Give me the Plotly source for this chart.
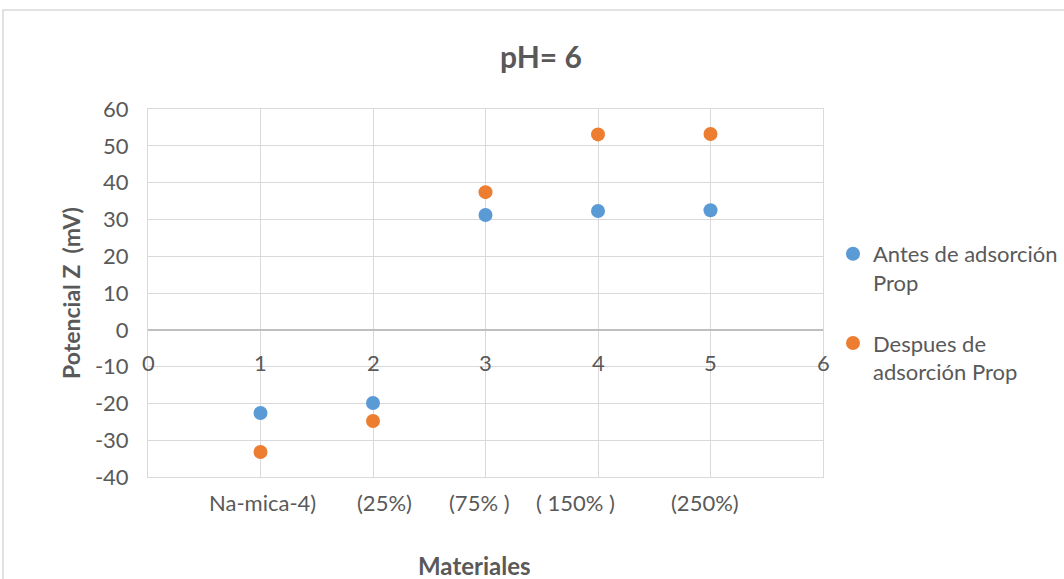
import plotly.graph_objects as go

# ---- data ----
x_vals = [1, 2, 3, 4, 5]
antes = [-22.6, -19.9, 31.2, 32.3, 32.5]
despues = [-33.2, -24.8, 37.4, 53.1, 53.2]
series_names = ["Antes de adsorción<br>Prop", "Despues de<br>adsorción Prop"]
x_ticks = [0, 1, 2, 3, 4, 5, 6]
y_ticks = [-40, -30, -20, -10, 0, 10, 20, 30, 40, 50, 60]
category_labels = ["Na-mica-4)", "(25%)", "(75% )", "( 150% )", "(250%)"]
title_text = "pH= 6"
x_title = "Materiales"
y_title = "Potencial Z  (mV)"

FONT = "Lato, Noto Sans, sans-serif"
TXT = "#595959"
GRID = "#d9d9d9"
BLUE = "#5B9BD5"
ORANGE = "#ED7D31"
FS = 22

fig = go.Figure()
fig.add_trace(go.Scatter(x=x_vals, y=antes, mode="markers", name=series_names[0],
                         marker=dict(color=BLUE, size=14), legendgroup="a"))
fig.add_trace(go.Scatter(x=x_vals, y=despues, mode="markers", name=series_names[1],
                         marker=dict(color=ORANGE, size=14), legendgroup="b"))

annotations = []
# x tick labels placed just under the zero line (Excel style axis crossing at 0)
for t in x_ticks:
    annotations.append(dict(x=t, y=0, xref="x", yref="y", text=str(t), showarrow=False,
                            yshift=-33, font=dict(family=FONT, size=FS, color=TXT)))
# category labels below the plot
cat_shift = [2, 11, -6, -23, -6]
for xv, lab, sh in zip(x_vals, category_labels, cat_shift):
    annotations.append(dict(x=xv, y=0, xref="x", yref="paper", text=lab.replace("  ", "&nbsp; "),
                            showarrow=False, xshift=sh, yshift=-25, yanchor="middle",
                            font=dict(family=FONT, size=FS, color=TXT)))
annotations.append(dict(x=(474 - 148) / 675, y=0, xref="paper", yref="paper", text="<b>%s</b>" % x_title,
                        showarrow=False, yshift=-88, yanchor="middle",
                        font=dict(family=FONT, size=24, color=TXT)))

fig.update_layout(
    width=1064, height=579,
    margin=dict(l=148, r=241, t=109, b=102, autoexpand=False),
    paper_bgcolor="white", plot_bgcolor="white",
    font=dict(family=FONT, color=TXT, size=FS),
    title=dict(text="<b>%s</b>" % title_text, x=541 / 1064, xref="container", xanchor="center",
               y=1 - 57 / 579, yref="container", yanchor="middle",
               font=dict(family=FONT, size=30, color=TXT)),
    xaxis=dict(range=[0, 6], tickvals=x_ticks, showticklabels=False, showgrid=True,
               gridcolor=GRID, gridwidth=1, zeroline=False, showline=True, linecolor=GRID,
               mirror=True),
    yaxis=dict(range=[-40, 60], tickvals=y_ticks, ticktext=[str(v) for v in y_ticks],
               showgrid=True, gridcolor=GRID, gridwidth=1,
               zeroline=True, zerolinecolor="#bfbfbf", zerolinewidth=1.5, showline=True,
               linecolor=GRID, mirror=True, ticklabelstandoff=14,
               tickfont=dict(family=FONT, size=FS, color=TXT),
               title=dict(text="<b>%s</b>" % y_title.replace("  ", "&nbsp; "), standoff=7,
                          font=dict(family=FONT, size=23, color=TXT))),
    legend=dict(x=(833 - 148) / 675, y=(477 - 233) / 368, xanchor="left", yanchor="top",
                font=dict(family=FONT, size=FS, color=TXT), tracegroupgap=29, valign="top",
                bgcolor="rgba(0,0,0,0)"),
    annotations=annotations,
    shapes=[dict(type="rect", xref="paper", yref="paper", x0=(3 - 148) / 675, x1=2.0,
                 y0=-1.0, y1=(477 - 10) / 368, line=dict(color=GRID, width=1.5),
                 fillcolor="rgba(0,0,0,0)", layer="below")],
)

fig.write_html("out.html", config={"displayModeBar": False},
               post_script="document.body.style.margin='0';document.body.style.overflow='hidden';")
